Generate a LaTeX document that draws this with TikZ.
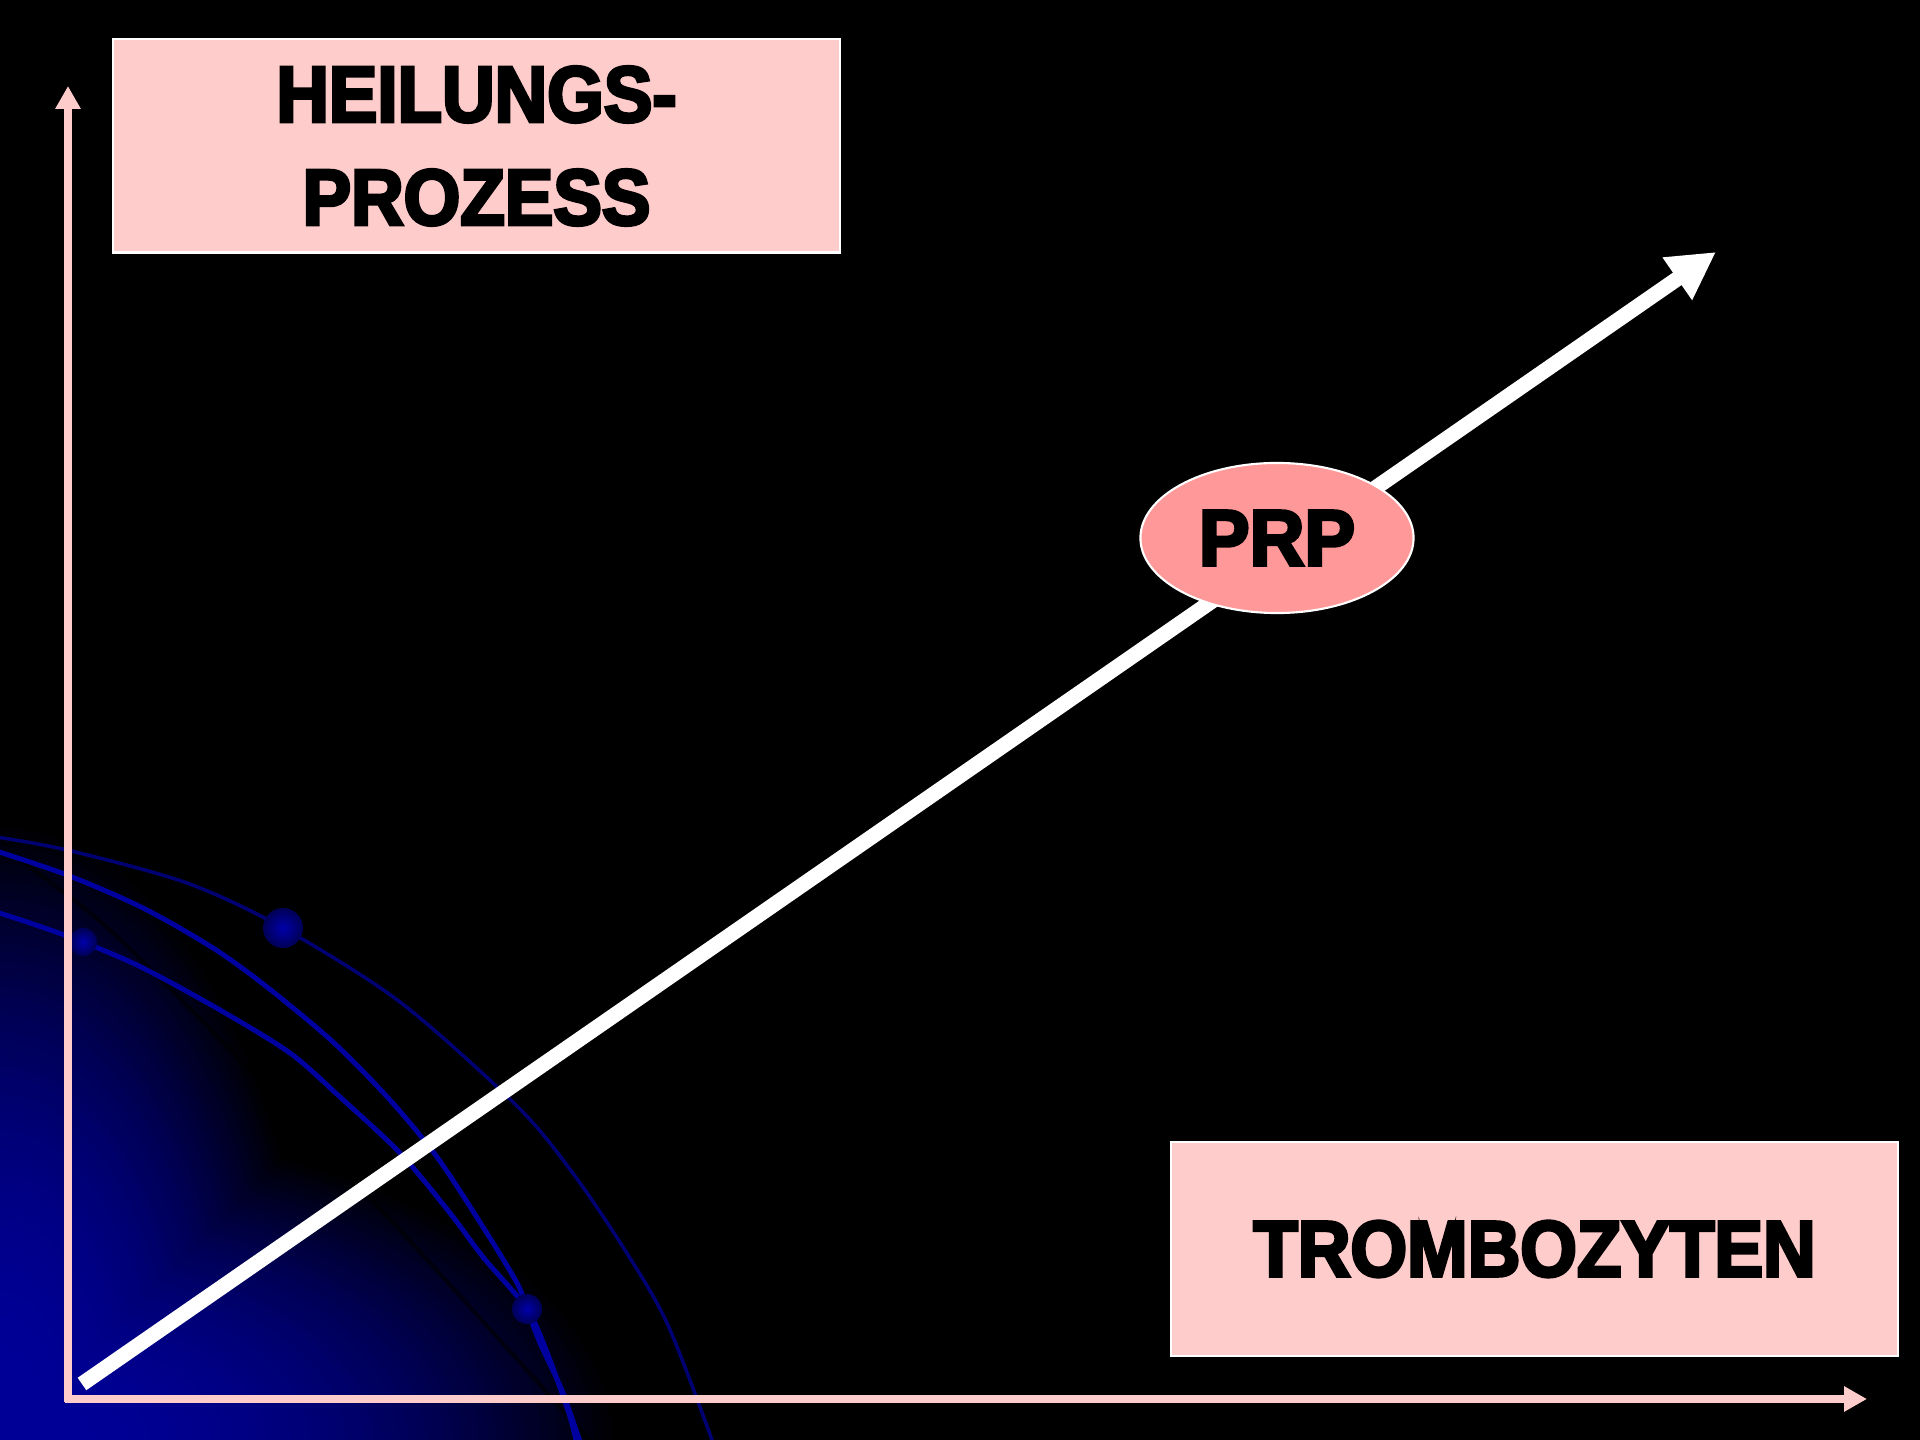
\documentclass[tikz,border=0pt]{standalone}
\usepackage{fontspec}
\usetikzlibrary{arrows.meta,shapes.geometric}
\newfontfamily\heavy{Liberation Sans}[BoldFeatures={FakeStretch=0.92,FakeBold=4}]
\newfontfamily\heavywide{Liberation Sans}[BoldFeatures={FakeStretch=0.96,FakeBold=4}]
\newcommand\heavyfont{\heavy\bfseries\fontsize{22.5}{29.3}\selectfont}
\newcommand\heavywidefont{\heavywide\bfseries\fontsize{22.5}{29.3}\selectfont}
\definecolor{boxpink}{HTML}{FFCCCC}
\definecolor{prppink}{HTML}{FF9999}
\definecolor{glowblue}{RGB}{0,0,153}
\definecolor{orbit}{RGB}{0,0,160}
\definecolor{orbitdim}{RGB}{0,0,115}
\definecolor{ballin}{RGB}{0,0,170}
\definecolor{ballout}{RGB}{0,0,85}
\begin{document}
\begin{tikzpicture}[x=0.01cm,y=-0.01cm,
  labelbox/.style={draw=white,line width=0.6pt,fill=boxpink,minimum width=7.27cm,
    minimum height=2.13cm,inner sep=0pt,align=center,font=\heavyfont,text=black},
  orbitline/.style={orbit,line width=1.4pt,line join=round},
  dimline/.style={orbitdim,line width=1.0pt,line join=round},
  ballstyle/.style={inner color=ballin,outer color=ballout},
  axisline/.style={boxpink,line width=2.1pt,-{Triangle[length=6.5pt,width=6.8pt]}},
  bigarrow/.style={white,line width=4.3pt,-{Triangle[length=13.4pt,width=13.8pt]}}]
\useasboundingbox (0,0) rectangle (1920,1440);
\fill[black] (0,0) rectangle (1920,1440);
\begin{scope}
  \clip (0,0) rectangle (1920,1440);
  \foreach \i in {0,...,69} {
    \pgfmathsetmacro\s{1-\i/70}
    \pgfmathtruncatemacro\p{100*(1-\s^2.2)}
    \fill[glowblue!\p!black] (0,1440) ellipse [x radius={3.2cm*\s}, y radius={6.2cm*\s}]
                             (0,1440) ellipse [x radius={6.2cm*\s}, y radius={3.2cm*\s}];
  }
  % dark shadow line
  \draw[black,opacity=0.6,line width=1.2pt] plot[smooth] coordinates
    {(20,860) (110,930) (250,1070) (400,1230) (583,1433) (600,1460)};
  % orbit curves
  \draw[dimline] plot[smooth] coordinates
    {(-10,836) (67,850) (187,883) (283,928) (400,1002) (517,1106)
     (572,1172) (623,1247) (667,1323) (712,1440) (720,1470)};
  \draw[orbitline] plot[smooth] coordinates
    {(-10,849) (67,875) (143,908) (213,948) (267,987) (333,1042) (390,1100)
     (437,1157) (483,1227) (517,1283) (527,1309) (540,1343) (563,1393) (586,1460)};
  \draw[orbitline] plot[smooth] coordinates
    {(-10,910) (30,923) (83,942) (143,968) (220,1010) (290,1053) (340,1097)
     (400,1153) (450,1213) (483,1257) (527,1309) (548,1355) (570,1417) (578,1450)};
  \shade[ballstyle] (283,928) circle [radius=0.2cm];
  \shade[ballstyle] (83,942) circle [radius=0.14cm];
  \shade[ballstyle] (527,1309) circle [radius=0.15cm];
\end{scope}
% main arrow
\coordinate (a0) at (82,1384);
\coordinate (a1) at (1716,252);
\draw[bigarrow] (a0) -- (a1);
% axes
\coordinate (yorig) at (68,1402);
\coordinate (ytip) at (68,86);
\coordinate (xorig) at (65,1399);
\coordinate (xtip) at (1867,1399);
\draw[axisline] (yorig) -- (ytip);
\draw[axisline] (xorig) -- (xtip);
% labels
\node[labelbox] (heil) at (476.5,146) {HEILUNGS-\\PROZESS};
\node[labelbox] (tromb) at (1534.5,1249) {TROMBOZYTEN};
\node[ellipse,draw=white,line width=0.6pt,fill=prppink,minimum width=2.73cm,
  minimum height=1.5cm,inner sep=0pt,font=\heavywidefont,text=black] (prp) at (1277,538) {PRP};
\end{tikzpicture}
\end{document}
